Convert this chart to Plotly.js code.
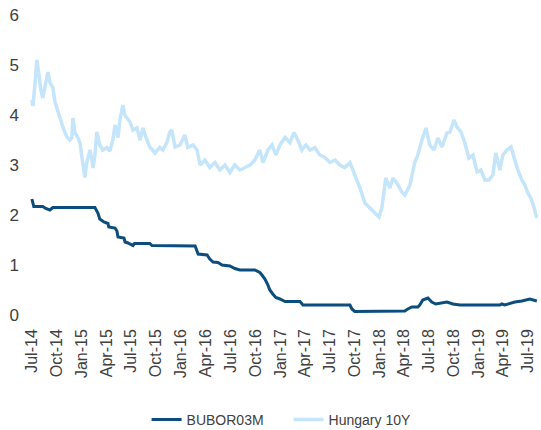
<!DOCTYPE html>
<html>
<head>
<meta charset="utf-8">
<script src="https://cdn.plot.ly/plotly-3.0.1.min.js"></script>
<style>html,body{margin:0;padding:0;background:#fff;}#chart{width:541px;height:430px;}</style>
</head>
<body>
<div id="chart"></div>
<script>
// Hungary 10Y government bond yield (%)
const huDates = ['2014-07-01','2014-07-05','2014-07-12','2014-07-19','2014-07-27','2014-08-03','2014-08-10','2014-08-18','2014-08-29','2014-09-05','2014-09-16','2014-09-24','2014-10-05','2014-10-12','2014-10-23','2014-10-31','2014-11-07','2014-11-18','2014-11-25','2014-11-29','2014-12-06','2014-12-17','2014-12-25','2015-01-01','2015-01-08','2015-01-12','2015-01-19','2015-01-27','2015-01-31','2015-02-07','2015-02-11','2015-02-18','2015-02-25','2015-03-08','2015-03-19','2015-04-03','2015-04-14','2015-04-25','2015-05-03','2015-05-14','2015-05-21','2015-06-01','2015-06-08','2015-06-16','2015-06-27','2015-07-08','2015-07-23','2015-08-03','2015-08-14','2015-08-25','2015-09-08','2015-09-27','2015-10-15','2015-10-26','2015-11-10','2015-11-21','2015-11-28','2015-12-10','2015-12-28','2016-01-15','2016-01-26','2016-02-14','2016-02-29','2016-03-11','2016-03-29','2016-04-16','2016-05-05','2016-05-23','2016-06-11','2016-06-29','2016-07-17','2016-08-05','2016-08-23','2016-09-11','2016-09-29','2016-10-17','2016-10-29','2016-11-16','2016-12-01','2016-12-15','2016-12-30','2017-01-18','2017-02-05','2017-02-20','2017-03-06','2017-03-21','2017-04-05','2017-04-20','2017-05-08','2017-05-26','2017-06-14','2017-07-02','2017-07-21','2017-08-08','2017-08-26','2017-09-14','2017-10-02','2017-10-21','2017-11-08','2017-11-27','2017-12-15','2017-12-30','2018-01-10','2018-01-24','2018-02-08','2018-02-19','2018-03-06','2018-03-24','2018-04-04','2018-04-23','2018-05-11','2018-05-22','2018-06-06','2018-06-21','2018-07-05','2018-07-20','2018-08-04','2018-08-19','2018-09-06','2018-09-17','2018-10-02','2018-10-13','2018-10-28','2018-11-11','2018-11-26','2018-12-11','2018-12-26','2019-01-09','2019-01-24','2019-02-08','2019-02-22','2019-03-05','2019-03-20','2019-03-31','2019-04-15','2019-04-30','2019-05-14','2019-05-25','2019-06-09','2019-06-20','2019-07-01','2019-07-12','2019-07-23','2019-08-03'];
const huValues = [4.3,4.18,4.6,5.1,4.8,4.5,4.34,4.6,4.86,4.65,4.55,4.26,4.05,3.96,3.76,3.65,3.56,3.5,3.54,3.94,3.65,3.55,3.44,3.16,2.85,2.75,3.05,3.2,3.3,3.1,2.94,3.2,3.66,3.4,3.3,3.35,3.28,3.5,3.8,3.55,3.9,4.2,4.0,3.94,3.86,3.7,3.74,3.5,3.74,3.55,3.36,3.24,3.35,3.3,3.45,3.66,3.7,3.36,3.4,3.6,3.35,3.4,3.3,3.0,3.1,2.95,3.05,2.9,3.0,2.85,3.0,2.9,2.95,3.0,3.1,3.3,3.05,3.3,3.4,3.2,3.4,3.55,3.45,3.65,3.5,3.3,3.4,3.3,3.35,3.2,3.15,3.05,3.1,3.0,2.95,3.05,2.8,2.54,2.24,2.14,2.06,1.96,2.16,2.74,2.54,2.74,2.64,2.46,2.4,2.6,3.06,3.2,3.5,3.74,3.4,3.3,3.54,3.36,3.64,3.66,3.9,3.76,3.66,3.44,3.14,3.2,2.86,2.9,2.7,2.7,2.8,3.24,2.9,3.2,3.3,3.36,3.1,2.9,2.7,2.6,2.44,2.34,2.16,1.94];

// BUBOR 3M (%)
const buDates = ['2014-07-01','2014-07-08','2014-08-10','2014-08-21','2014-09-05','2014-09-16','2015-02-18','2015-03-01','2015-03-08','2015-03-23','2015-04-07','2015-04-10','2015-05-03','2015-05-10','2015-05-14','2015-06-05','2015-06-09','2015-06-20','2015-07-08','2015-07-14','2015-09-08','2015-09-16','2016-02-22','2016-03-04','2016-04-06','2016-04-16','2016-04-28','2016-05-16','2016-05-31','2016-06-29','2016-07-17','2016-08-05','2016-09-29','2016-10-17','2016-10-25','2016-11-05','2016-11-16','2016-11-23','2016-12-04','2016-12-15','2016-12-30','2017-01-18','2017-03-14','2017-03-25','2017-09-14','2017-09-21','2017-10-02','2018-04-04','2018-04-15','2018-04-30','2018-05-22','2018-05-29','2018-06-09','2018-06-28','2018-07-12','2018-07-27','2018-09-06','2018-09-28','2018-10-24','2019-03-20','2019-03-27','2019-04-07','2019-05-14','2019-06-09','2019-07-08','2019-08-03'];
const buValues = [2.32,2.17,2.17,2.13,2.1,2.15,2.15,2.04,1.92,1.86,1.83,1.76,1.74,1.68,1.56,1.54,1.46,1.44,1.39,1.43,1.43,1.39,1.38,1.22,1.2,1.12,1.06,1.05,1.0,0.98,0.93,0.9,0.9,0.85,0.8,0.72,0.6,0.5,0.42,0.35,0.32,0.27,0.27,0.2,0.2,0.12,0.07,0.08,0.12,0.16,0.16,0.2,0.3,0.34,0.26,0.22,0.26,0.22,0.2,0.2,0.22,0.2,0.26,0.28,0.32,0.28];

// Axis ticks
const tickDates = ['2014-07-01','2014-10-01','2015-01-01','2015-04-01','2015-07-01','2015-10-01','2016-01-01','2016-04-01','2016-07-01','2016-10-01','2017-01-01','2017-04-01','2017-07-01','2017-10-01','2018-01-01','2018-04-01','2018-07-01','2018-10-01','2019-01-01','2019-04-01','2019-07-01'];
const tickLabels = ['Jul-14','Oct-14','Jan-15','Apr-15','Jul-15','Oct-15','Jan-16','Apr-16','Jul-16','Oct-16','Jan-17','Apr-17','Jul-17','Oct-17','Jan-18','Apr-18','Jul-18','Oct-18','Jan-19','Apr-19','Jul-19'];
const yTicks = [0,1,2,3,4,5,6];

const traces = [
  {x: buDates, y: buValues, name: 'BUBOR03M', type: 'scatter', mode: 'lines',
   line: {color: '#0b4d7d', width: 3}},
  {x: huDates, y: huValues, name: 'Hungary 10Y', type: 'scatter', mode: 'lines',
   line: {color: '#c4e5fa', width: 3.5}}
];

const layout = {
  width: 541, height: 430,
  margin: {l: 30, r: 2, t: 15, b: 115, autoexpand: false},
  paper_bgcolor: '#ffffff', plot_bgcolor: '#ffffff',
  font: {family: 'Liberation Sans, Arial, sans-serif', color: '#404040'},
  showlegend: true,
  legend: {orientation: 'h', x: 0.508, xanchor: 'center', y: -0.35, yanchor: 'middle',
           font: {size: 14, color: '#404040'}, entrywidth: 97, traceorder: 'normal'},
  xaxis: {type: 'date', range: ['2014-06-24', '2019-08-11'], automargin: false,
          tickmode: 'array', tickvals: tickDates, ticktext: tickLabels,
          tickangle: -90, tickfont: {size: 16, color: '#404040'},
          showgrid: false, zeroline: false, showline: false, ticks: '', ticklabelstandoff: 10},
  yaxis: {range: [0, 6], tickmode: 'array', tickvals: yTicks, automargin: false,
          tickfont: {size: 17, color: '#404040'},
          showgrid: false, zeroline: false, showline: false, ticks: '', ticklabelstandoff: 10}
};

Plotly.newPlot('chart', traces, layout, {displayModeBar: false, staticPlot: true});
</script>
</body>
</html>
